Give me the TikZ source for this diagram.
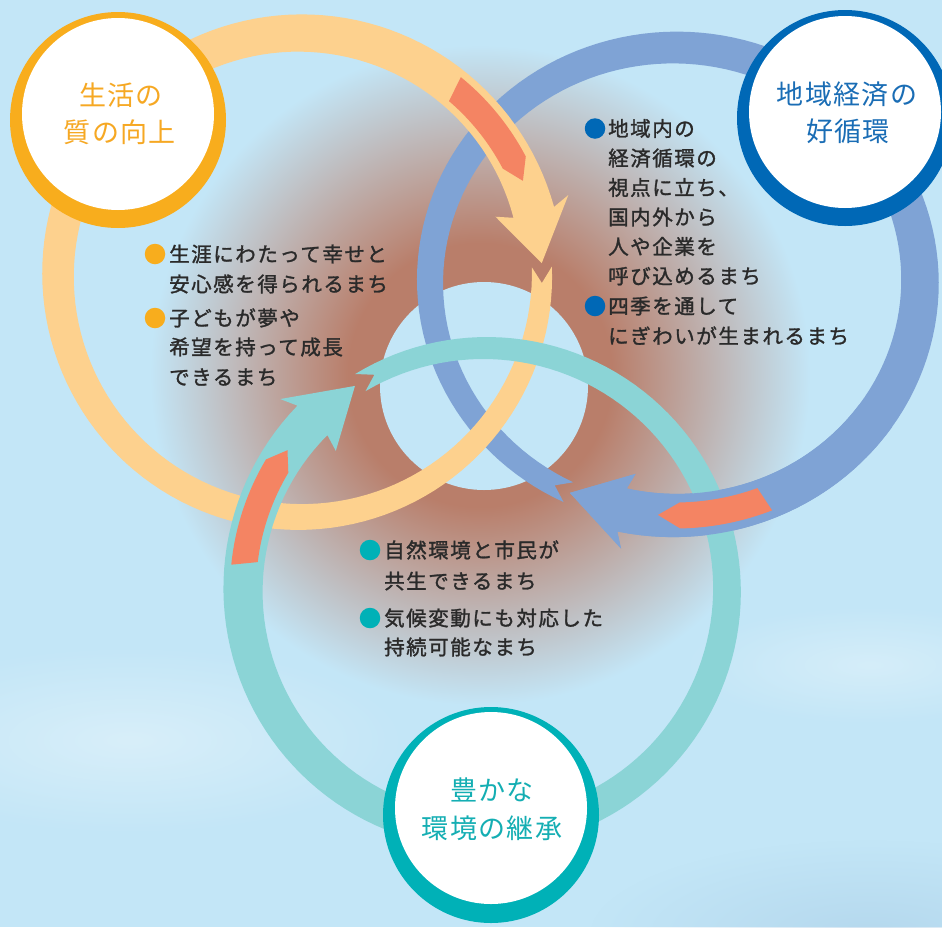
\documentclass[tikz,border=0pt]{standalone}
\usepackage{fontspec}
\newfontfamily\jpbody[LetterSpace=7.5, FakeBold=1.4]{Noto Sans CJK JP}
\newfontfamily\jptitle[LetterSpace=5]{Noto Sans CJK JP}
\usetikzlibrary{fadings}
\definecolor{bgc}{HTML}{C3E6F7}
\definecolor{brn}{HTML}{B97E6A}
\definecolor{ringO}{HTML}{FDD18E}
\definecolor{ringB}{HTML}{7FA3D5}
\definecolor{ringT}{HTML}{8BD4D6}
\definecolor{salm}{HTML}{F48463}
\definecolor{circO}{HTML}{F8AD1D}
\definecolor{circB}{HTML}{0068B6}
\definecolor{circT}{HTML}{00B1B7}
\definecolor{txtO}{HTML}{F6A823}
\definecolor{txtB}{HTML}{1A6DB5}
\definecolor{txtT}{HTML}{14AEB3}
\definecolor{txtD}{HTML}{2A2A2A}
\definecolor{hill}{HTML}{A9CDE6}
\pgfdeclareradialshading{blob}{\pgfpoint{0bp}{0bp}}{color(0bp)=(brn); color(10bp)=(brn); color(25bp)=(bgc); color(50bp)=(bgc)}
\tikzfading[name=softedge, inner color=transparent!0, outer color=transparent!100]
\newcommand{\setring}[8]{\def\rcx{#1}\def\rcy{#2}\def\rrx{#3}\def\rry{#4}\def\rta{#5}\def\rtb{#6}\def\rwa{#7}\def\rwb{#8}}
\pgfmathdeclarefunction{bw}{1}{\pgfmathparse{\rwa+(\rwb-\rwa)*((#1)-\rta)/(\rtb-\rta)}}
% full ring: #1 colour, #2 barb angle, #3 tip angle, #4 notch angle
\newcommand{\fullring}[4]{%
 \fill[#1] plot[domain=\rta:\rtb, samples=140, variable=\ang] ({\rcx+(\rrx+bw(\ang)/2)*cos(\ang)},{\rcy+(\rry+bw(\ang)/2)*sin(\ang)})
 -- ({\rcx+(\rrx+38)*cos(#2)},{\rcy+(\rry+38)*sin(#2)})
 -- ({\rcx+\rrx*cos(#3)},{\rcy+\rry*sin(#3)})
 -- ({\rcx+(\rrx-38)*cos(#2)},{\rcy+(\rry-38)*sin(#2)})
 -- plot[domain=\rtb:\rta, samples=140, variable=\ang] ({\rcx+(\rrx-bw(\ang)/2)*cos(\ang)},{\rcy+(\rry-bw(\ang)/2)*sin(\ang)})
 -- ({\rcx+\rrx*cos(#4)},{\rcy+\rry*sin(#4)}) -- cycle;}
% partial ring from #2 to head: #1 colour, #3 barb, #4 tip
\newcommand{\partring}[4]{%
 \fill[#1] plot[domain=#2:\rtb, samples=40, variable=\ang] ({\rcx+(\rrx+bw(\ang)/2)*cos(\ang)},{\rcy+(\rry+bw(\ang)/2)*sin(\ang)})
 -- ({\rcx+(\rrx+38)*cos(#3)},{\rcy+(\rry+38)*sin(#3)})
 -- ({\rcx+\rrx*cos(#4)},{\rcy+\rry*sin(#4)})
 -- ({\rcx+(\rrx-38)*cos(#3)},{\rcy+(\rry-38)*sin(#3)})
 -- plot[domain=\rtb:#2, samples=40, variable=\ang] ({\rcx+(\rrx-bw(\ang)/2)*cos(\ang)},{\rcy+(\rry-bw(\ang)/2)*sin(\ang)})
 -- cycle;}
% salmon strip: #1 outer tail, #2 inner tail, #3 front, #4 tip
\newcommand{\stripseg}[4]{%
 \fill[salm] plot[domain=#1:#3, samples=30, variable=\ang] ({\rcx+(\rrx+13)*cos(\ang)},{\rcy+(\rry+13)*sin(\ang)})
 -- ({\rcx+\rrx*cos(#4)},{\rcy+\rry*sin(#4)})
 -- plot[domain=#3:#2, samples=30, variable=\ang] ({\rcx+(\rrx-13)*cos(\ang)},{\rcy+(\rry-13)*sin(\ang)})
 -- cycle;}
\tikzset{
 bodyline/.style={anchor=west, inner sep=0pt, font=\jpbody\fontsize{20.5}{24}\selectfont, text=txtD, text height=18pt, text depth=2.5pt},
 titleline/.style={anchor=center, inner sep=0pt, font=\jptitle\fontsize{27}{30}\selectfont, text height=23.8pt, text depth=3.2pt},
 bulletdot/.style={circle, inner sep=0pt, minimum size=20.5pt},
 ringdisc/.style={circle, inner sep=0pt, minimum size=216pt},
 whitedisc/.style={circle, inner sep=0pt, minimum size=192pt, fill=white},
}
\begin{document}
\begin{tikzpicture}[x=1pt,y=-1pt]
\useasboundingbox (0,0) rectangle (942,927);
\fill[bgc] (0,0) rectangle (942,927);
% soft clouds
\fill[white, opacity=0.35, path fading=softedge] (130,740) ellipse (280 and 95);
\fill[white, opacity=0.3, path fading=softedge] (870,665) ellipse (190 and 60);
\fill[hill, opacity=0.55, path fading=softedge] (870,935) ellipse (280 and 95);
% brown glow
\shade[shading=blob] (480,375) circle (330);
% central hole
\fill[bgc] (484,386) circle (104);
% blue ring (base)
\setring{675}{281.5}{245}{234}{115.8}{462.5}{22}{44}
\fullring{ringB}{461}{475.4}{119.4}
% orange ring
\setring{300}{275}{242}{242}{-1.9}{345}{20}{42}
\fullring{ringO}{343.4}{357.2}{1.9}
\stripseg{309.1}{310.6}{332.3}{337.1}
% teal ring
\setring{485}{590}{242}{242}{239}{584.5}{20}{42}
\fullring{ringT}{583}{597.5}{242.8}
\stripseg{545.7}{547}{570.8}{575.3}
% blue ring over teal near its head
\setring{675}{281.5}{245}{234}{115.8}{462.5}{22}{44}
\partring{ringB}{395}{461}{475.4}
\stripseg{427.9}{429.2}{448.85}{454}
% circles
\node[ringdisc, fill=circO] (oring) at (118,120) {};
\node[whitedisc] (odisc) at (118,114) {};
\node[ringdisc, fill=circB] (bring) at (845,118) {};
\node[whitedisc] (bdisc) at (845,112) {};
\node[ringdisc, fill=circT] (tring) at (491,815) {};
\node[whitedisc] (tdisc) at (491,808) {};
% titles
\node[titleline, text=txtO] (oT1) at (121,95) {生活の};
\node[titleline, text=txtO] (oT2) at (120,132) {質の向上};
\node[titleline, text=txtB] (bT1) at (847,94) {地域経済の};
\node[titleline, text=txtB] (bT2) at (848,131.5) {好循環};
\node[titleline, text=txtT] (tT1) at (492,790) {豊かな};
\node[titleline, text=txtT] (tT2) at (492,828) {環境の継承};
% orange bullets
\node[bulletdot, fill=circO] (ob1) at (155,254) {};
\node[bulletdot, fill=circO] (ob2) at (155,318) {};
\node[bodyline] (o1) at (169,254) {生涯にわたって幸せと};
\node[bodyline] (o2) at (169,284) {安心感を得られるまち};
\node[bodyline] (o3) at (169,318) {子どもが夢や};
\node[bodyline] (o4) at (169,347) {希望を持って成長};
\node[bodyline] (o5) at (169,377) {できるまち};
% blue bullets
\node[bulletdot, fill=circB] (bb1) at (595,128.5) {};
\node[bulletdot, fill=circB] (bb2) at (595,306) {};
\node[bodyline] (b1) at (608,128.5) {地域内の};
\node[bodyline] (b2) at (608,158) {経済循環の};
\node[bodyline] (b3) at (608,187.5) {視点に立ち、};
\node[bodyline] (b4) at (608,217) {国内外から};
\node[bodyline] (b5) at (608,246.5) {人や企業を};
\node[bodyline] (b6) at (608,276) {呼び込めるまち};
\node[bodyline] (b7) at (608,306) {四季を通して};
\node[bodyline] (b8) at (608,336) {にぎわいが生まれるまち};
% teal bullets
\node[bulletdot, fill=circT] (tb1) at (370,550) {};
\node[bulletdot, fill=circT] (tb2) at (370,618) {};
\node[bodyline] (t1) at (384,550) {自然環境と市民が};
\node[bodyline] (t2) at (384,581) {共生できるまち};
\node[bodyline] (t3) at (384,618) {気候変動にも対応した};
\node[bodyline] (t4) at (384,647) {持続可能なまち};
\end{tikzpicture}
\end{document}
